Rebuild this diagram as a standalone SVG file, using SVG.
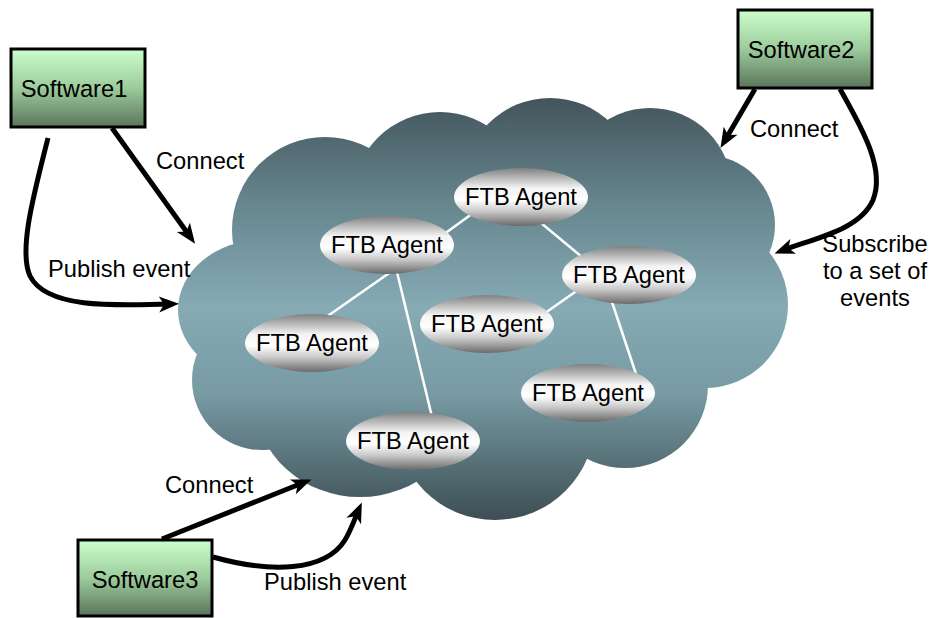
<svg xmlns="http://www.w3.org/2000/svg" width="930" height="618" viewBox="0 0 930 618">
<defs>
<linearGradient id="cloudGrad" gradientUnits="userSpaceOnUse" x1="0" y1="95" x2="0" y2="522">
<stop offset="0" stop-color="#42535a"/>
<stop offset="0.25" stop-color="#66858d"/>
<stop offset="0.5" stop-color="#86abb5"/>
<stop offset="0.7" stop-color="#779aa3"/>
<stop offset="1" stop-color="#3c4d53"/>
</linearGradient>
<linearGradient id="agentGrad" x1="0" y1="0" x2="0" y2="1">
<stop offset="0" stop-color="#808080"/>
<stop offset="0.35" stop-color="#f4f4f4"/>
<stop offset="0.55" stop-color="#ffffff"/>
<stop offset="0.75" stop-color="#c8c8c8"/>
<stop offset="1" stop-color="#6a6a6a"/>
</linearGradient>
<linearGradient id="boxGrad" x1="0" y1="0" x2="0" y2="1">
<stop offset="0" stop-color="#ccffcc"/>
<stop offset="0.5" stop-color="#9ccb9c"/>
<stop offset="1" stop-color="#5a755a"/>
</linearGradient>
<marker id="arrow" markerUnits="userSpaceOnUse" markerWidth="30" markerHeight="20" viewBox="-16 -10 30 20" refX="0" refY="0" orient="auto" overflow="visible">
<path d="M 7,0 L -13,-8 L -8,0 L -13,8 Z" fill="#000"/>
</marker>
<style>
text{font-family:"Liberation Sans",Arial,sans-serif;font-size:23.7px;fill:#000}
.agent ellipse{fill:url(#agentGrad)}
.agent text,.box text{text-anchor:middle}
.box rect{fill:url(#boxGrad);stroke:#000;stroke-width:3}
.link{stroke:#fff;stroke-width:2.5;fill:none}
.arr{stroke:#000;stroke-width:5;fill:none;marker-end:url(#arrow)}
</style>
</defs>

<g id="cloud" fill="url(#cloudGrad)">
<polygon points="325,230 440,200 550,185 650,190 705,225 705,305 625,385 495,420 360,400 262,380 262,310"/>
<circle cx="325" cy="230" r="93"/>
<circle cx="440" cy="200" r="88"/>
<circle cx="550" cy="185" r="87"/>
<circle cx="650" cy="190" r="82"/>
<circle cx="705" cy="225" r="70"/>
<circle cx="705" cy="305" r="83"/>
<circle cx="625" cy="385" r="83"/>
<circle cx="495" cy="420" r="100"/>
<ellipse cx="360" cy="400" rx="105" ry="97"/>
<circle cx="262" cy="380" r="70"/>
<ellipse cx="262" cy="310" rx="84" ry="70"/>
</g>

<g id="links">
<line class="link" x1="480" y1="208" x2="436" y2="240"/>
<line class="link" x1="535" y1="218" x2="588" y2="262"/>
<line class="link" x1="395" y1="269" x2="322" y2="320"/>
<line class="link" x1="396" y1="268" x2="433" y2="421"/>
<line class="link" x1="585" y1="285" x2="538" y2="318"/>
<line class="link" x1="610" y1="296" x2="638" y2="380"/>
</g>

<g id="agent1" class="agent"><ellipse cx="521" cy="197" rx="67" ry="29"/><text x="521" y="205">FTB Agent</text></g>
<g id="agent2" class="agent"><ellipse cx="387" cy="245" rx="67" ry="29"/><text x="387" y="253">FTB Agent</text></g>
<g id="agent3" class="agent"><ellipse cx="629" cy="275" rx="67" ry="29"/><text x="629" y="283">FTB Agent</text></g>
<g id="agent4" class="agent"><ellipse cx="487" cy="324" rx="67" ry="29"/><text x="487" y="332">FTB Agent</text></g>
<g id="agent5" class="agent"><ellipse cx="312" cy="343" rx="67" ry="29"/><text x="312" y="351">FTB Agent</text></g>
<g id="agent6" class="agent"><ellipse cx="588" cy="393" rx="67" ry="29"/><text x="588" y="401">FTB Agent</text></g>
<g id="agent7" class="agent"><ellipse cx="413" cy="441" rx="67" ry="29"/><text x="413" y="449">FTB Agent</text></g>

<g id="software1" class="box"><rect x="11" y="49" width="134" height="78"/><text x="74" y="97">Software1</text></g>
<g id="software2" class="box"><rect x="738" y="10" width="134" height="78"/><text x="801" y="58">Software2</text></g>
<g id="software3" class="box"><rect x="78" y="540" width="134" height="76"/><text x="145" y="588">Software3</text></g>

<g id="connectors">
<path class="arr" d="M 112,128 L 191,238"/>
<path class="arr" d="M 48,138 C 35,190 18,250 30,276 C 46,308 110,306 172,304"/>
<path class="arr" d="M 755,89 L 724,142"/>
<path class="arr" d="M 840,89 C 860,125 886,168 873,200 C 860,230 815,238 781,251"/>
<path class="arr" d="M 162,539 L 305,482"/>
<path class="arr" d="M 213,557 C 270,573 325,572 345,540 C 351,530 355,518 359,509"/>
</g>

<g id="labels">
<text x="156" y="169">Connect</text>
<text x="48" y="277">Publish event</text>
<text x="750" y="137">Connect</text>
<text x="875" y="252" text-anchor="middle">Subscribe</text>
<text x="875" y="279" text-anchor="middle">to a set of</text>
<text x="875" y="306" text-anchor="middle">events</text>
<text x="165" y="493">Connect</text>
<text x="264" y="590">Publish event</text>
</g>
</svg>
